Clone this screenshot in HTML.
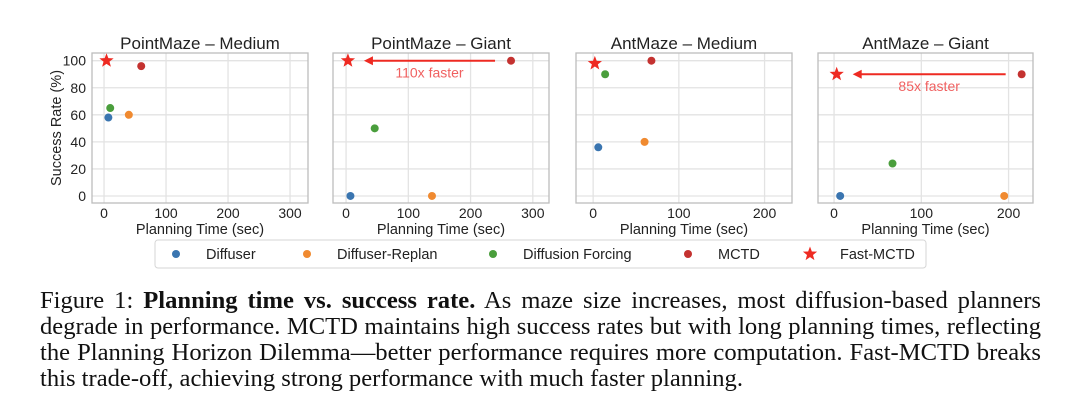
<!DOCTYPE html>
<html><head><meta charset="utf-8"><style>
body{margin:0;width:1080px;height:419px;background:#fff;overflow:hidden;position:relative;font-family:"Liberation Sans",sans-serif}
#chart{position:absolute;left:0;top:0}
.cap{position:absolute;left:40px;width:1001px;font-family:"Liberation Serif",serif;font-size:24.6px;line-height:26px;color:#111}
.ln{display:block;text-align:justify;text-align-last:justify;white-space:nowrap;height:26px}
.ln.last{text-align-last:left}
</style></head><body>
<svg id="chart" width="1080" height="280" xmlns="http://www.w3.org/2000/svg"></svg>
<div class="cap" style="top:288px">
<span class="ln">Figure 1: <b>Planning time vs. success rate.</b> As maze size increases, most diffusion-based planners</span>
<span class="ln">degrade in performance. MCTD maintains high success rates but with long planning times, reflecting</span>
<span class="ln">the Planning Horizon Dilemma—better performance requires more computation. Fast-MCTD breaks</span>
<span class="ln last">this trade-off, achieving strong performance with much faster planning.</span>
</div>
<script>
const panelTitles=["PointMaze – Medium","PointMaze – Giant","AntMaze – Medium","AntMaze – Giant"];
const seriesNames=["Diffuser","Diffuser-Replan","Diffusion Forcing","MCTD","Fast-MCTD"];
const seriesColors=["#3a75b0","#f08a30","#4a9e3c","#c43230","#ee2a22"];
const timesP1=[7,40,10,60,4], ratesP1=[58,60,65,96,100];
const timesP2=[7,138,46,265,3], ratesP2=[0,0,50,100,100];
const timesP3=[6,60,14,68,2], ratesP3=[36,40,90,100,98];
const timesP4=[7,195,67,215,3], ratesP4=[0,0,24,90,90];
const xTicksWide=[0,100,200,300], xTicksNarrow=[0,100,200];
const yTicks=[0,20,40,60,80,100];
const speedups=["","110x faster","","85x faster"];
const NS="http://www.w3.org/2000/svg";
const svg=document.getElementById('chart');
function mk(tag,attrs,parent,text){const e=document.createElementNS(NS,tag);for(const k in attrs)e.setAttribute(k,attrs[k]);if(text!==undefined)e.textContent=text;(parent||svg).appendChild(e);return e;}
const panels=[
 {L:92,R:308,xmin:-19.4,xmax:329,ticks:xTicksWide,t:timesP1,r:ratesP1},
 {L:333,R:549,xmin:-21,xmax:326,ticks:xTicksWide,t:timesP2,r:ratesP2},
 {L:576,R:792,xmin:-20,xmax:232,ticks:xTicksNarrow,t:timesP3,r:ratesP3},
 {L:818,R:1033,xmin:-18.4,xmax:228,ticks:xTicksNarrow,t:timesP4,r:ratesP4}];
const T=53,B=203,ymin=-5.2,ymax=105.7;
function starPath(cx,cy,R){let d="";for(let i=0;i<10;i++){const rr=i%2?R*0.42:R;const a=-Math.PI/2+i*Math.PI/5;d+=(i?"L":"M")+(cx+rr*Math.cos(a)).toFixed(2)+","+(cy+rr*Math.sin(a)).toFixed(2);}return d+"Z";}
panels.forEach((p,pi)=>{
 const g=mk('g',{});
 
 
 const xs=v=>p.L+(v-p.xmin)/(p.xmax-p.xmin)*(p.R-p.L);
 const ys=v=>B-(v-ymin)/(ymax-ymin)*(B-T);
 mk('rect',{x:p.L,y:T,width:p.R-p.L,height:B-T,fill:'#fff'},g);
 yTicks.forEach(v=>{mk('line',{x1:p.L,x2:p.R,y1:ys(v),y2:ys(v),stroke:'#e3e3e3','stroke-width':1.3},g);
  if(pi===0){const t=mk('text',{x:p.L-6,y:ys(v)+5,'text-anchor':'end','font-size':14,fill:'#222'},g,v);}});
 p.ticks.forEach(v=>{mk('line',{x1:xs(v),x2:xs(v),y1:T,y2:B,stroke:'#e3e3e3','stroke-width':1.3},g);
  const t=mk('text',{x:xs(v),y:B+15,'text-anchor':'middle','font-size':14,fill:'#222'},g,v);});
 mk('rect',{x:p.L,y:T,width:p.R-p.L,height:B-T,fill:'none',stroke:'#bdbdbd','stroke-width':1.3},g);
 const ti=mk('text',{x:(p.L+p.R)/2,y:49,'text-anchor':'middle','font-size':17,fill:'#222'},g,panelTitles[pi]);
 
 const xl=mk('text',{x:(p.L+p.R)/2,y:234,'text-anchor':'middle','font-size':14.5,fill:'#222'},g,'Planning Time (sec)');
 
 if(speedups[pi]){
  const y=ys(p.r[4]);
  const x1=xs(p.t[3])-16, x2=xs(p.t[4])+16;
  const a=mk('line',{x1:x1,y1:y,x2:x2+8,y2:y,stroke:'#ee2a22','stroke-width':2},g);
  
  const h=mk('path',{d:`M${x2},${y}L${x2+9},${y-4.5}L${x2+9},${y+4.5}Z`,fill:'#ee2a22'},g);
  
  const s=mk('text',{x:(xs(p.t[3])+xs(p.t[4]))/2,y:y+17,'text-anchor':'middle','font-size':14,fill:'#f06060'},g,speedups[pi]);
  
 }
 for(let i=0;i<5;i++){
  const cx=xs(p.t[i]),cy=ys(p.r[i]);let m;
  if(i===4)m=mk('path',{d:starPath(cx,cy,7.5),fill:seriesColors[i]},g);
  else m=mk('circle',{cx:cx,cy:cy,r:4,fill:seriesColors[i]},g);
  
  
 }
});
const yl=mk('text',{x:0,y:0,transform:'translate(61,128) rotate(-90)','text-anchor':'middle','font-size':14.5,fill:'#222'},svg,'Success Rate (%)');

const lg=mk('g',{});

mk('rect',{x:155,y:240,width:771,height:28,rx:3,fill:'#fff',stroke:'#d6d6d6','stroke-width':1},lg);
const lgX=[176,307,493,688,810];
seriesNames.forEach((n,i)=>{
 const e=mk('g',{},lg);
 
 if(i===4)mk('path',{d:starPath(lgX[i],254,7.5),fill:seriesColors[i]},e);
 else mk('circle',{cx:lgX[i],cy:254,r:4,fill:seriesColors[i]},e);
 mk('text',{x:lgX[i]+30,y:259,'font-size':14.5,fill:'#222'},e,n);
});
</script>
</body></html>
